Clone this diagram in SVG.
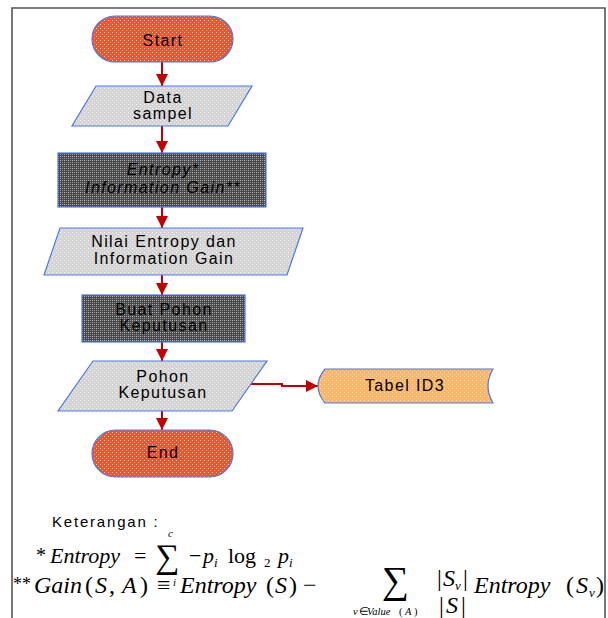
<svg xmlns="http://www.w3.org/2000/svg" width="608" height="618" viewBox="0 0 608 618">
<style>
.lbl{font-family:"Liberation Sans",Arial,sans-serif;font-size:16px;letter-spacing:1.4px;fill:#000;text-anchor:middle}
.it{font-style:italic}
.shape{stroke:#4a78e8;stroke-width:1.2}
.conn{stroke:#c00000;stroke-width:2;fill:none}
.m{font-family:"Liberation Serif","Times New Roman",serif;fill:#000}
.mi{font-family:"Liberation Serif","Times New Roman",serif;font-style:italic;fill:#000}
</style>
<defs>
<pattern id="pRed" width="4" height="4" patternUnits="userSpaceOnUse">
<rect width="4" height="4" fill="#f8502e"/><rect width="1" height="1" fill="#ffd0c4"/><rect x="2" y="2" width="1" height="1" fill="#ff9a84"/>
</pattern>
<pattern id="pGray" width="4" height="4" patternUnits="userSpaceOnUse">
<rect width="4" height="4" fill="#d4d4d4"/><rect width="1" height="1" fill="#f6f6f6"/><rect x="2" y="2" width="1" height="1" fill="#ececec"/>
</pattern>
<pattern id="pDark" width="4" height="4" patternUnits="userSpaceOnUse">
<rect width="4" height="4" fill="#4a4a4a"/><rect width="1" height="1" fill="#c0c0c0"/><rect x="2" y="0" width="1" height="1" fill="#9a9a9a"/><rect x="0" y="2" width="1" height="1" fill="#9a9a9a"/><rect x="2" y="2" width="1" height="1" fill="#808080"/>
</pattern>
<pattern id="pOrange" width="4" height="4" patternUnits="userSpaceOnUse">
<rect width="4" height="4" fill="#ffb466"/><rect width="1" height="1" fill="#ffe6cc"/><rect x="2" y="2" width="1" height="1" fill="#ffd0a0"/>
</pattern>
<marker id="arr" markerUnits="userSpaceOnUse" markerWidth="14" markerHeight="14" refX="12" refY="6" orient="auto">
<path d="M0,0 L12,6 L0,12 Z" fill="#c00000"/>
</marker>
</defs>
<rect width="608" height="618" fill="#fff"/>
<polyline points="12,618 12,8 605,8 605,618" fill="none" stroke="#555" stroke-width="1.6"/>

<g id="connectors">
<line class="conn" x1="162" y1="62" x2="162" y2="86" marker-end="url(#arr)"/>
<line class="conn" x1="162" y1="126" x2="162" y2="153" marker-end="url(#arr)"/>
<line class="conn" x1="162" y1="207" x2="162" y2="228" marker-end="url(#arr)"/>
<line class="conn" x1="162" y1="275" x2="162" y2="295" marker-end="url(#arr)"/>
<line class="conn" x1="162" y1="342" x2="162" y2="361" marker-end="url(#arr)"/>
<line class="conn" x1="162" y1="411" x2="162" y2="430" marker-end="url(#arr)"/>
<polyline class="conn" points="249,384 282,384 282,386 318,386" marker-end="url(#arr)"/>
</g>

<g id="start">
<rect class="shape" x="92" y="16" width="141" height="46" rx="23" fill="url(#pRed)"/>
<text class="lbl" x="163" y="46">Start</text>
</g>

<g id="data">
<polygon class="shape" points="96,86 252,86 228,126 72,126" fill="url(#pGray)"/>
<text class="lbl" x="163" y="103">Data</text>
<text class="lbl" x="163" y="119">sampel</text>
</g>

<g id="entropy">
<rect class="shape" x="58" y="153" width="208" height="54" fill="url(#pDark)"/>
<text class="lbl it" x="163" y="175">Entropy*</text>
<text class="lbl it" x="163" y="193">Information Gain**</text>
</g>

<g id="nilai">
<polygon class="shape" points="60,228 303,228 287,275 44,275" fill="url(#pGray)"/>
<text class="lbl" x="164" y="247">Nilai Entropy dan</text>
<text class="lbl" x="164" y="264">Information Gain</text>
</g>

<g id="buat">
<rect class="shape" x="82" y="295" width="163" height="47" fill="url(#pDark)"/>
<text class="lbl" x="164" y="315">Buat Pohon</text>
<text class="lbl" x="164" y="331">Keputusan</text>
</g>

<g id="pohon">
<polygon class="shape" points="93,361 267,361 232,411 58,411" fill="url(#pGray)"/>
<text class="lbl" x="163" y="382">Pohon</text>
<text class="lbl" x="163" y="398">Keputusan</text>
</g>

<g id="end">
<rect class="shape" x="92" y="430" width="141" height="47" rx="23.5" fill="url(#pRed)"/>
<text class="lbl" x="163" y="458">End</text>
</g>

<g id="tabel">
<path class="shape" d="M325,369 H493 Q483,386 493,403 H325 Q311,386 325,369 Z" fill="url(#pOrange)"/>
<text class="lbl" x="405" y="391">Tabel ID3</text>
</g>

<g id="legend">
<text x="52" y="527" font-family="Liberation Sans, Arial, sans-serif" font-size="15" letter-spacing="1.8" fill="#000">Keterangan :</text>
<text class="m" x="36" y="562" font-size="20">*</text>
<text class="mi" x="50" y="563" font-size="22">Entropy</text>
<text class="m" x="134" y="563" font-size="22">=</text>
<text class="m" x="155" y="568" font-size="34">∑</text>
<text class="mi" x="168" y="537" font-size="11">c</text>
<text class="m" x="189" y="563" font-size="22">−</text>
<text class="mi" x="203" y="563" font-size="22">p</text>
<text class="mi" x="214" y="567" font-size="13">i</text>
<text class="m" x="228" y="563" font-size="22">log</text>
<text class="m" x="264" y="567" font-size="13">2</text>
<text class="mi" x="278" y="563" font-size="22">p</text>
<text class="mi" x="289" y="567" font-size="13">i</text>

<text class="m" x="13" y="590" font-size="18">**</text>
<text class="mi" x="34" y="593" font-size="24">Gain</text>
<text class="m" x="85" y="593" font-size="24">(</text>
<text class="mi" x="95" y="593" font-size="24">S</text>
<text class="m" x="109" y="593" font-size="24">,</text>
<text class="mi" x="122" y="593" font-size="24">A</text>
<text class="m" x="140" y="593" font-size="24">)</text>
<text class="m" x="157" y="593" font-size="24">≡</text>
<text class="mi" x="173" y="586" font-size="11">i</text>
<text class="mi" x="180" y="593" font-size="24">Entropy</text>
<text class="m" x="266" y="593" font-size="24">(</text>
<text class="mi" x="275" y="593" font-size="24">S</text>
<text class="m" x="289" y="593" font-size="24">) −</text>
<text class="m" x="382" y="593" font-size="38">∑</text>
<text class="mi" x="353" y="615" font-size="10.5">v</text>
<text class="m" x="359" y="615" font-size="10.5">∈</text>
<text class="mi" x="367" y="615" font-size="10.5">Value</text>
<text class="m" x="399" y="615" font-size="10.5">(</text>
<text class="mi" x="405" y="615" font-size="10.5">A</text>
<text class="m" x="414" y="615" font-size="10.5">)</text>
<text class="m" x="437" y="586" font-size="24">|</text>
<text class="mi" x="443" y="586" font-size="24">S</text>
<text class="mi" x="455" y="590" font-size="13">v</text>
<text class="m" x="463" y="586" font-size="24">|</text>
<text class="m" x="439" y="613" font-size="24">|</text>
<text class="mi" x="446" y="613" font-size="24">S</text>
<text class="m" x="461" y="613" font-size="24">|</text>
<text class="mi" x="474" y="593" font-size="24">Entropy</text>
<text class="m" x="566" y="593" font-size="24">(</text>
<text class="mi" x="576" y="593" font-size="24">S</text>
<text class="mi" x="589" y="597" font-size="13">v</text>
<text class="m" x="596" y="593" font-size="24">)</text>
</g>
</svg>
